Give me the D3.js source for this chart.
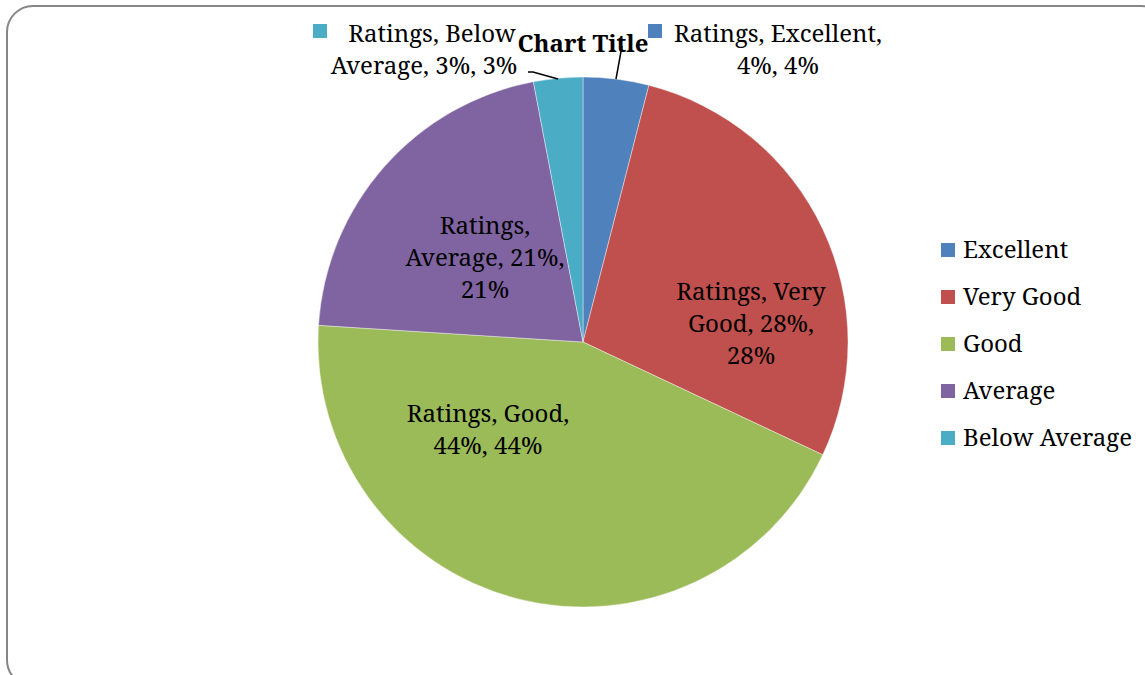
<!DOCTYPE html>
<html><head><meta charset="utf-8">
<script src="https://cdn.jsdelivr.net/npm/d3@7"></script>
<style>body{margin:0;background:#fff;} svg{display:block;}</style>
</head><body>
<svg id="c" width="1145" height="675"></svg>
<script>
const categories = ["Excellent", "Very Good", "Good", "Average", "Below Average"];
const values = [4, 28, 44, 21, 3];
const seriesName = "Ratings";
const colors = ["#4F81BD", "#C0504D", "#9BBB59", "#8064A2", "#4BACC6"];
const title = "Chart Title";

const FONT = "'Noto Serif', 'Liberation Serif', serif";
const FS = 24;
const svg = d3.select("#c");

svg.append("rect").attr("x", 7).attr("y", 6).attr("width", 1160).attr("height", 680)
  .attr("rx", 26).attr("ry", 26).attr("fill", "#fff").attr("stroke", "#868686").attr("stroke-width", 2);

const cx = 583, cy = 342, r = 265;
const data = categories.map((c, i) => ({cat: c, v: values[i], col: colors[i]}));
const pie = d3.pie().value(d => d.v).sort(null);
const arcs = pie(data);
const arc = d3.arc().innerRadius(0).outerRadius(r);
const g = svg.append("g").attr("transform", `translate(${cx},${cy})`);
g.selectAll("path").data(arcs).join("path")
  .attr("d", arc).attr("fill", d => d.data.col)
  .attr("stroke", "rgba(255,255,255,0.5)").attr("stroke-width", 0.8);

const labelLines = [
  [`${seriesName}, ${categories[0]},`, `${values[0]}%, ${values[0]}%`],
  [`${seriesName}, Very`, `Good, ${values[1]}%,`, `${values[1]}%`],
  [`${seriesName}, ${categories[2]},`, `${values[2]}%, ${values[2]}%`],
  [`${seriesName},`, `${categories[3]}, ${values[3]}%,`, `${values[3]}%`],
  [`${seriesName}, Below`, `Average, ${values[4]}%, ${values[4]}%`]
];
const labelPos = [[778, 42], [751, 300], [488, 422], [485, 234], [424, 42]];
const lineShift = [[0, 0], [0, 0, 0], [0, 0], [0, 0, 0], [8, 0]];
const lh = 32;

const leaders = [
  [[616, 79], [622, 46]],
  null, null, null,
  [[558, 79], [533, 72], [528, 72]]
];
leaders.forEach(l => {
  if (!l) return;
  svg.append("path").attr("d", d3.line()(l)).attr("fill", "none")
    .attr("stroke", "#000").attr("stroke-width", 1.5);
});

arcs.forEach((a, i) => {
  const [x, y] = labelPos[i];
  const t = svg.append("text").attr("font-family", FONT).attr("font-size", FS)
    .attr("text-anchor", "middle").attr("fill", "#000");
  labelLines[i].forEach((ln, j) => {
    t.append("tspan").attr("x", x + lineShift[i][j]).attr("y", y + j * lh).text(ln);
  });
});
svg.append("rect").attr("x", 648).attr("y", 24).attr("width", 14).attr("height", 14).attr("fill", colors[0]);
svg.append("rect").attr("x", 313).attr("y", 24).attr("width", 14).attr("height", 14).attr("fill", colors[4]);

svg.append("text").attr("x", 583).attr("y", 52).attr("text-anchor", "middle")
  .attr("font-family", FONT).attr("font-size", 24).attr("font-weight", "bold").text(title);

const lg = svg.append("g");
categories.forEach((c, i) => {
  const y = 250 + i * 47;
  lg.append("rect").attr("x", 941).attr("y", y - 7).attr("width", 14).attr("height", 14).attr("fill", colors[i]);
  lg.append("text").attr("x", 963).attr("y", y + 8).attr("font-family", FONT).attr("font-size", FS).text(c);
});
</script>
</body></html>
